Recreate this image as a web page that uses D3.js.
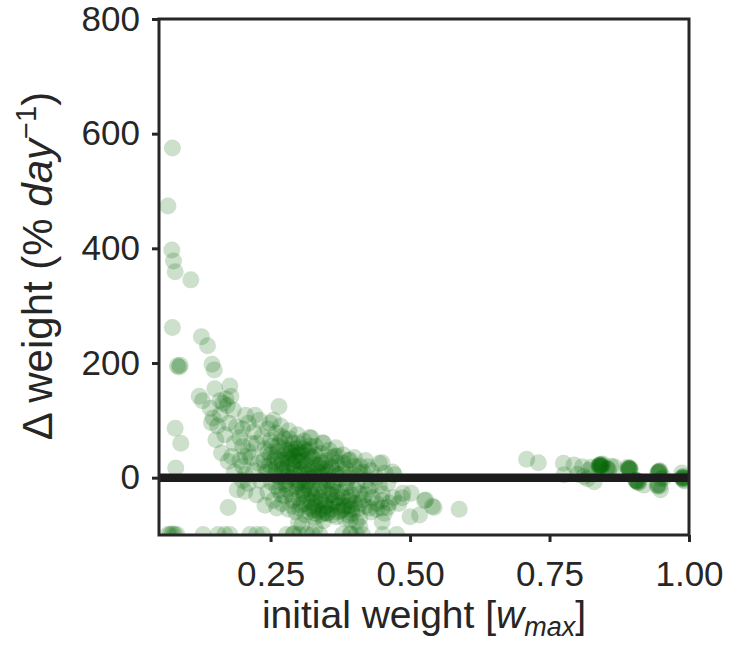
<!DOCTYPE html>
<html>
<head>
<meta charset="utf-8">
<script src="https://cdn.jsdelivr.net/npm/d3@7"></script>
<style>
  body { margin: 0; background: #fff; }
  text { font-family: "Liberation Sans", Arial, sans-serif; fill: #262626; }
</style>
</head>
<body>
<div id="chart"></div>
<script>
// [initial weight (w_max), change in weight (% per day)]
var sparsePoints = [
  [0.074, 575], [0.066, 474], [0.073, 397], [0.076, 378], [0.079, 359], [0.107, 345],
  [0.074, 262], [0.126, 246], [0.137, 230], [0.083, 195], [0.086, 193], [0.088, 196],
  [0.145, 198], [0.149, 188], [0.177, 160], [0.150, 155], [0.122, 142], [0.128, 134],
  [0.159, 134], [0.170, 137], [0.179, 142], [0.165, 130], [0.172, 126], [0.142, 121],
  [0.147, 104], [0.183, 118], [0.205, 109], [0.222, 109], [0.265, 124], [0.249, 95],
  [0.189, 89], [0.079, 86], [0.089, 60], [0.080, 17], [0.152, 66], [0.144, 96],
  [0.162, 43], [0.174, 28], [0.180, 37], [0.204, 37], [0.190, -21], [0.204, -24],
  [0.174, -52], [0.240, -48], [0.261, -53],
  [0.155, 90], [0.160, 110], [0.168, 75], [0.175, 95], [0.185, 60], [0.195, 70],
  [0.200, 55], [0.210, 45], [0.195, 30], [0.185, 10], [0.200, -5], [0.210, -10],
  [0.215, 60], [0.200, 85]
];

var tailPoints = [
  [0.323, 69], [0.343, 61], [0.367, 52], [0.370, 38], [0.392, 31], [0.424, 19],
  [0.450, 26], [0.469, 10], [0.445, 25], [0.472, 5], [0.487, -27], [0.502, -27],
  [0.486, -35], [0.526, -40], [0.540, -50], [0.500, -68], [0.463, -44], [0.450, -53],
  [0.427, -53], [0.404, -77], [0.350, -62], [0.326, -56], [0.302, -53], [0.344, -62],
  [0.392, -48], [0.528, -39], [0.543, -52], [0.588, -55], [0.517, -65]
];

var corePoints = [
  [0.210, 95], [0.220, 80], [0.225, 60], [0.230, 100], [0.235, 72], [0.240, 50],
  [0.245, 85], [0.250, 65], [0.250, 40], [0.255, 100], [0.260, 78], [0.262, 55],
  [0.268, 90], [0.270, 30], [0.275, 68], [0.280, 48], [0.283, 82], [0.290, 60],
  [0.292, 38], [0.298, 75], [0.300, 52], [0.305, 28], [0.310, 64], [0.315, 45],
  [0.320, 70], [0.325, 35], [0.330, 55], [0.335, 22], [0.340, 42], [0.345, 60],
  [0.350, 30], [0.355, 48], [0.360, 18], [0.365, 38], [0.370, 25], [0.380, 40],
  [0.385, 15], [0.390, 30], [0.400, 20], [0.410, 8], [0.420, 30], [0.430, 12],
  [0.200, 20], [0.205, 5], [0.215, 35], [0.220, 12], [0.228, 25], [0.232, -5],
  [0.238, 30], [0.243, 10], [0.248, 22], [0.252, -8], [0.258, 35], [0.260, 15],
  [0.265, 2], [0.270, 25], [0.272, 8], [0.278, -12], [0.280, 18], [0.285, 32],
  [0.288, 0], [0.293, 15], [0.296, -15], [0.300, 28], [0.302, 5], [0.307, -8],
  [0.310, 18], [0.313, 30], [0.318, -2], [0.320, 10], [0.326, -18], [0.330, 22],
  [0.333, 2], [0.338, -10], [0.342, 15], [0.346, -22], [0.350, 5], [0.354, -5],
  [0.358, 20], [0.362, -15], [0.366, 8], [0.370, -25], [0.375, -2], [0.380, 12],
  [0.385, -18], [0.390, 0], [0.395, -30], [0.400, 5], [0.405, -12], [0.410, -28],
  [0.415, 10], [0.420, -5], [0.425, -20], [0.432, -35], [0.440, 0], [0.445, -15],
  [0.450, -28], [0.455, 8], [0.460, -10],
  [0.225, -30], [0.245, -25], [0.255, -40], [0.265, -22], [0.270, -45], [0.275, -32],
  [0.282, -55], [0.287, -28], [0.290, -40], [0.295, -60], [0.300, -35], [0.305, -48],
  [0.308, -25], [0.312, -65], [0.316, -38], [0.320, -52], [0.324, -30], [0.328, -70],
  [0.332, -45], [0.336, -58], [0.340, -35], [0.345, -75], [0.348, -48], [0.352, -62],
  [0.356, -30], [0.360, -55], [0.364, -40], [0.368, -68], [0.372, -45], [0.376, -58],
  [0.380, -35], [0.384, -72], [0.388, -50], [0.392, -40], [0.396, -62], [0.400, -45],
  [0.405, -55], [0.410, -70], [0.415, -38], [0.420, -50], [0.430, -60], [0.440, -45],
  [0.450, -40], [0.460, -52], [0.470, -35], [0.480, -45],
  [0.262, 45], [0.274, 52], [0.286, 42], [0.296, 50], [0.306, 40], [0.318, 48],
  [0.276, 12], [0.290, 22], [0.304, 15], [0.316, 5], [0.330, -28], [0.340, -40],
  [0.322, -42], [0.310, -30], [0.298, -22], [0.280, 2], [0.268, -8], [0.250, 12],
  [0.256, 28], [0.284, 68], [0.300, 40], [0.312, -12], [0.324, 18], [0.336, 8],
  [0.350, -12], [0.360, -30], [0.370, -50], [0.344, -55], [0.330, -62], [0.320, -20]
];

var denseCorePoints = [
  [0.240, 20], [0.245, 45], [0.252, 55], [0.258, 5], [0.263, 32], [0.267, 62],
  [0.271, 15], [0.275, 40], [0.279, -5], [0.283, 25], [0.287, 50], [0.291, 8],
  [0.295, 30], [0.299, -10], [0.303, 45], [0.306, 12], [0.309, -20], [0.313, 22],
  [0.317, -8], [0.321, 38], [0.325, 0], [0.329, -35], [0.333, 12], [0.337, -22],
  [0.341, 28], [0.345, -5], [0.349, -40], [0.353, 10], [0.357, -20], [0.361, -45],
  [0.365, -8], [0.369, -35], [0.373, 5], [0.377, -25], [0.381, -50], [0.386, -10],
  [0.390, -35], [0.395, -55], [0.400, -20], [0.410, -45], [0.420, -30], [0.430, -15],
  [0.440, -55], [0.260, -15], [0.270, -30], [0.280, -20], [0.290, -50], [0.300, -5],
  [0.310, -45], [0.320, -60], [0.330, -50], [0.340, -65], [0.350, -50], [0.360, -65],
  [0.370, -60], [0.380, -55], [0.390, -65], [0.300, 60], [0.290, 45], [0.310, 50],
  [0.270, 72], [0.280, 35], [0.320, 55], [0.330, 40], [0.340, 25], [0.360, 35],
  [0.350, 15], [0.380, 25], [0.400, 35], [0.410, 20]
];

var lostPoints = [
  [0.066, -99], [0.070, -99], [0.074, -98], [0.078, -99], [0.082, -99], [0.129, -99],
  [0.156, -99], [0.168, -99], [0.177, -99], [0.213, -99], [0.225, -99], [0.236, -99],
  [0.279, -99], [0.290, -99], [0.292, -98], [0.302, -99], [0.315, -99], [0.325, -99],
  [0.338, -99], [0.379, -99], [0.392, -99], [0.394, -98], [0.404, -99], [0.415, -99],
  [0.451, -99], [0.476, -99],
  [0.300, -78], [0.306, -82], [0.393, -74], [0.450, -77], [0.454, -62], [0.410, -85],
  [0.330, -88]
];

var largePoints = [
  [0.709, 32], [0.730, 26], [0.775, 25], [0.776, 5], [0.794, 22], [0.809, 19],
  [0.821, 13], [0.812, 2], [0.830, -7], [0.800, 6], [0.818, -2], [0.825, 18],
  [0.839, 22], [0.842, 20], [0.839, 18], [0.845, 24], [0.841, 21], [0.854, 16],
  [0.856, 14], [0.860, 20], [0.866, 19], [0.893, 16], [0.895, 14], [0.890, 18],
  [0.892, 15], [0.907, -7], [0.905, -5], [0.910, -9], [0.908, -6], [0.919, -13],
  [0.946, 10], [0.944, 8], [0.948, 12], [0.945, 9], [0.943, -13], [0.949, -21],
  [0.955, 0], [0.950, -2], [0.988, -1], [0.990, 2], [0.987, 8], [0.992, -6],
  [0.989, 0],
  [0.840, 21], [0.843, 22], [0.838, 20], [0.844, 19], [0.841, 23], [0.852, 15],
  [0.891, 16], [0.894, 17], [0.893, 15], [0.906, -6], [0.909, -8], [0.904, -4],
  [0.947, 10], [0.946, 11], [0.945, -12], [0.944, -15], [0.948, -14], [0.989, -2],
  [0.988, 1], [0.990, -4], [0.991, -1]
];

var xTicks = [0.25, 0.50, 0.75, 1.00];
var yTicks = [0, 200, 400, 600, 800];

var allPoints = sparsePoints.concat(tailPoints, corePoints, denseCorePoints, lostPoints, largePoints);

var margin = { top: 19, left: 159, bottom: 111, right: 45 },
    initialWidth = 734,
    initialHeight = 646,
    width = initialWidth - margin.left - margin.right,
    height = initialHeight - margin.top - margin.bottom;

var svg = d3.select('#chart').append('svg')
    .attr('width', initialWidth)
    .attr('height', initialHeight)
    .append('g')
    .attr('transform', 'translate(' + margin.left + ', ' + margin.top + ')');

var x = d3.scaleLinear()
    .domain([0.05, 1.0])
    .range([0, width]);

var y = d3.scaleLinear()
    .domain([-100, 800])
    .range([height, 0]);

svg.append('clipPath')
    .attr('id', 'plot-clip')
    .append('rect')
    .attr('width', width)
    .attr('height', height);

var plot = svg.append('g').attr('clip-path', 'url(#plot-clip)');

plot.selectAll('circle')
    .data(allPoints)
    .join('circle')
    .attr('cx', d => x(d[0]))
    .attr('cy', d => y(d[1]))
    .attr('r', 8.5)
    .attr('fill', '#006400')
    .attr('fill-opacity', 0.2);

// zero line
plot.append('line')
    .attr('x1', 0)
    .attr('x2', width)
    .attr('y1', y(0))
    .attr('y2', y(0))
    .attr('stroke', '#1c1c1c')
    .attr('stroke-width', 8.5);

// axes
svg.append('g')
    .attr('class', 'x-axis')
    .attr('transform', 'translate(0,' + height + ')')
    .call(d3.axisBottom(x).tickValues(xTicks).tickFormat(d3.format('.2f')).tickSize(7).tickPadding(19));

svg.append('g')
    .attr('class', 'y-axis')
    .call(d3.axisLeft(y).tickValues(yTicks).tickSize(7).tickPadding(12));

svg.selectAll('.domain').remove();
svg.selectAll('.tick line')
    .attr('stroke', '#262626')
    .attr('stroke-width', 3);
svg.selectAll('.tick text')
    .attr('fill', '#262626')
    .style('font-size', '35px')
    .style('font-family', '"Liberation Sans", Arial, sans-serif');

// spines
svg.append('rect')
    .attr('width', width)
    .attr('height', height)
    .attr('fill', 'none')
    .attr('stroke', '#262626')
    .attr('stroke-width', 3);

// axis labels
var xLabel = svg.append('text')
    .attr('x', width / 2)
    .attr('y', height + 93)
    .attr('text-anchor', 'middle')
    .style('font-size', '39px');
xLabel.append('tspan').text('initial weight [');
xLabel.append('tspan').style('font-style', 'italic').text('w');
xLabel.append('tspan').style('font-style', 'italic').style('font-size', '27px').attr('dy', 8).text('max');
xLabel.append('tspan').attr('dy', -8).text(']');

var yLabel = svg.append('text')
    .attr('transform', 'rotate(-90)')
    .attr('x', -(266 - margin.top))
    .attr('y', 52 - margin.left)
    .attr('text-anchor', 'middle')
    .style('font-size', '42px');
yLabel.append('tspan').text('\u0394 weight (% ');
yLabel.append('tspan').style('font-style', 'italic').text('day');
yLabel.append('tspan').style('font-size', '29px').attr('dy', -16).text('\u22121');
yLabel.append('tspan').attr('dy', 16).text(')');
</script>
</body>
</html>
